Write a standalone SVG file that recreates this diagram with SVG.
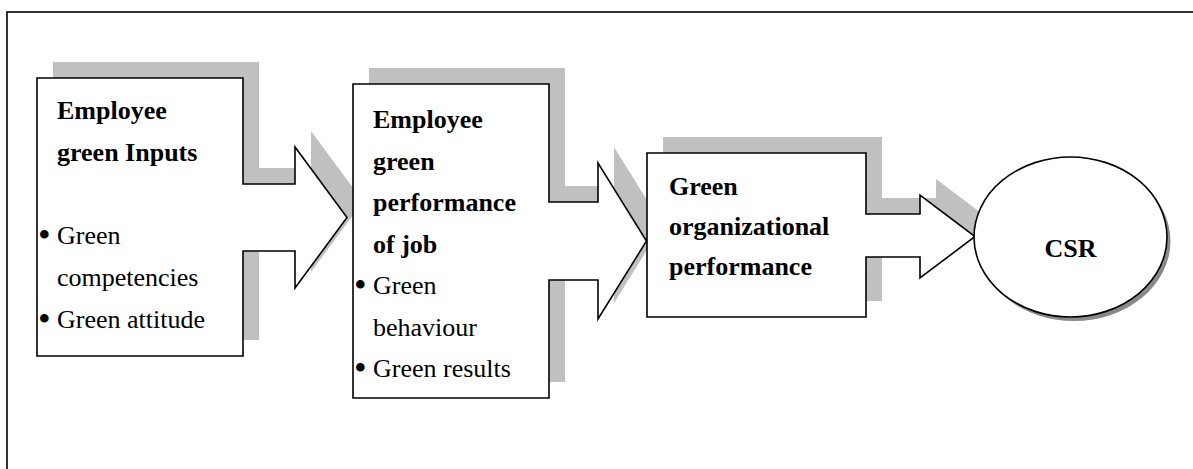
<svg xmlns="http://www.w3.org/2000/svg" width="1193" height="469" viewBox="0 0 1193 469">
<style>
.bg{fill:#ffffff}
.frame{fill:none;stroke:#000;stroke-width:1.6}
.shadow{fill:#c0c0c0;stroke:none}
.shape{fill:#ffffff;stroke:#000;stroke-width:1.6;stroke-linejoin:miter}
.t{font-family:"Liberation Serif","Times New Roman",serif;font-size:26px;fill:#000}
.b{font-weight:bold}
.bul{font-family:"Liberation Serif","Times New Roman",serif;font-size:36px;fill:#000}
</style>
<rect class="bg" x="0" y="0" width="1193" height="469"/>
<rect class="frame" x="7" y="12" width="1220" height="520"/>
<g id="node-inputs">
  <path class="shadow" transform="translate(16,-16)" d="M37,78 H243 V184 H295 V147 L347,217.5 L295,288 V251 H243 V356 H37 Z"/>
  <path class="shape" d="M37,78 H243 V184 H295 V147 L347,217.5 L295,288 V251 H243 V356 H37 Z"/>
  <text class="t b" x="57" y="119">Employee</text>
  <text class="t b" x="57" y="161">green Inputs</text>
  <text class="bul" x="38" y="247">•</text>
  <text class="t" x="57" y="244">Green</text>
  <text class="t" x="57" y="286">competencies</text>
  <text class="bul" x="38" y="331">•</text>
  <text class="t" x="57" y="328">Green attitude</text>
</g>
<g id="node-performance">
  <path class="shadow" transform="translate(16,-16)" d="M353,84 H549 V202 H598 V163 L646.5,241 L598,319 V280 H549 V398 H353 Z"/>
  <path class="shape" d="M353,84 H549 V202 H598 V163 L646.5,241 L598,319 V280 H549 V398 H353 Z"/>
  <text class="t b" x="373" y="128">Employee</text>
  <text class="t b" x="373" y="169.5">green</text>
  <text class="t b" x="373" y="211">performance</text>
  <text class="t b" x="373" y="252.5">of job</text>
  <text class="bul" x="354" y="297">•</text>
  <text class="t" x="373" y="294">Green</text>
  <text class="t" x="373" y="335.5">behaviour</text>
  <text class="bul" x="354" y="380">•</text>
  <text class="t" x="373" y="377">Green results</text>
</g>
<g id="node-organizational">
  <path class="shadow" transform="translate(16,-16)" d="M647,153 H866 V214 H920 V195 L975,236.5 L920,278 V257 H866 V317 H647 Z"/>
  <path class="shape" d="M647,153 H866 V214 H920 V195 L975,236.5 L920,278 V257 H866 V317 H647 Z"/>
  <text class="t b" x="669" y="195">Green</text>
  <text class="t b" x="669" y="235">organizational</text>
  <text class="t b" x="669" y="275">performance</text>
</g>
<g id="node-csr">
  <ellipse cx="1074" cy="241" rx="96.5" ry="80" fill="#8a8a8a"/>
  <ellipse class="shape" cx="1070.5" cy="237" rx="96.5" ry="80"/>
  <text class="t b" x="1070.5" y="257" text-anchor="middle">CSR</text>
</g>
<g id="connectors"></g>
</svg>
